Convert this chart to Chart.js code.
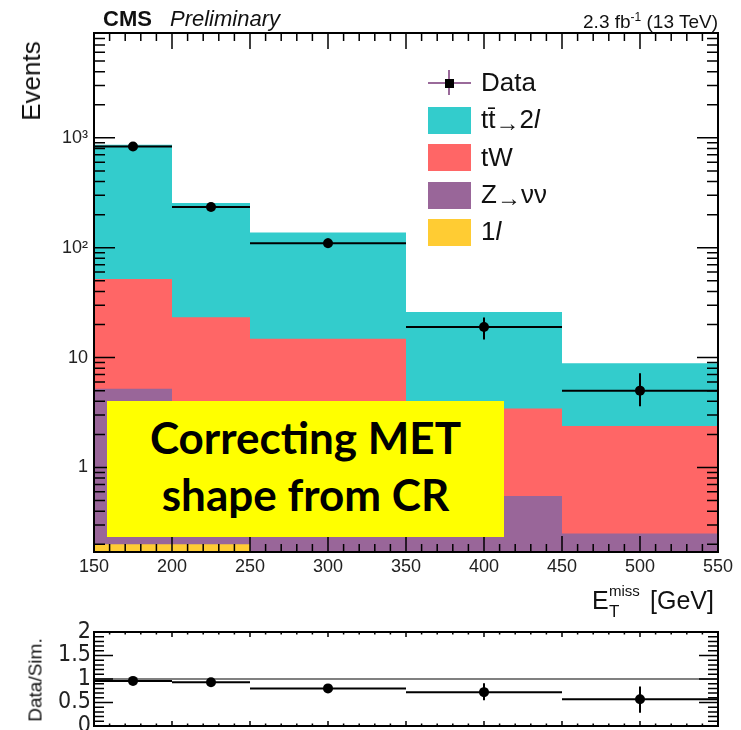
<!DOCTYPE html>
<html>
<head>
<meta charset="utf-8">
<script src="https://cdn.jsdelivr.net/npm/chart.js@4.4.1/dist/chart.umd.min.js"></script>
<style>
  body { margin: 0; background: #fff; overflow: hidden; }
  #wrap { position: relative; width: 741px; height: 730px; overflow: hidden;
          font-family: "Liberation Sans", Arial, sans-serif; color: #111; }
  canvas { position: absolute; left: 0; }
  .t { position: absolute; white-space: nowrap; line-height: 1; }
  .rot { position: absolute; white-space: nowrap; line-height: 1;
         transform: translate(-50%, -50%) rotate(-90deg); }
  .box { position: absolute; }
  .arr { font-size: 24px; position: relative; top: 3px; }
  #note { position: absolute; left: 107px; top: 401px; width: 397px; height: 136px;
          background: #ffff00; font-family: Lato, "Open Sans", sans-serif; font-weight: bold;
          color: #000; text-align: center; }
  #note div { position: absolute; left: 0; width: 100%; line-height: 1; font-size: 44px; }
</style>
</head>
<body>
<div id="wrap">
  <canvas id="mainChart" width="741" height="600" style="top:0"></canvas>
  <canvas id="ratioChart" width="741" height="150" style="top:600px"></canvas>
  <div id="note">
    <div style="top:14px">Correcting MET</div>
    <div style="top:71px">shape from CR</div>
  </div>
</div>
<script>
// bins of missing E_T [GeV]
const binEdges = [150, 200, 250, 350, 450, 550];
const binCenters = [175, 225, 300, 400, 500];

// observed events and error band
const dataCounts = [835, 235, 110, 19, 5];
const dataLow = [806, 220, 100, 14.6, 3.6];
const dataHigh = [864, 250, 121, 23.2, 7.2];

// simulated backgrounds (per process, stacked bottom to top)
const oneLep = [0.2, 0.2, 0, 0, 0];
const zNuNu = [5.0, 1.3, 0.8, 0.55, 0.25];
const tW = [46.8, 21.8, 14.0, 2.89, 2.13];
const ttbar2l = [811, 232, 123, 22.6, 6.5];

// data / simulation
const ratio = [0.96, 0.93, 0.80, 0.72, 0.57];
const ratioLow = [0.93, 0.87, 0.74, 0.55, 0.28];
const ratioHigh = [0.99, 0.99, 0.86, 0.91, 0.84];

const xTicks = [150, 200, 250, 300, 350, 400, 450, 500, 550];
const yTicksMain = [1, 10, 100, 1000];
const yLabelsMain = ['1', '10', '10²', '10³'];
const yTicksRatio = [0, 0.5, 1, 1.5, 2];
const yLabelsRatio = ['0', '0.5', '1', '1.5', '2'];

const colTT = '#33cccc', colTW = '#ff6666', colZ = '#996699', col1L = '#ffcc33';

// ---------- overlay texts ----------
const wrap = document.getElementById('wrap');
function text(html, left, baseline, size, style) {
  const el = document.createElement('span');
  el.className = 't';
  el.innerHTML = html;
  el.style.fontSize = size + 'px';
  el.style.left = left + 'px';
  el.style.top = (baseline - 0.8465 * size) + 'px';
  if (style) el.setAttribute('style', el.getAttribute('style') + ';' + style);
  wrap.appendChild(el);
  return el;
}
function rotText(html, cx, cy, size) {
  const el = document.createElement('span');
  el.className = 'rot';
  el.innerHTML = html;
  el.style.fontSize = size + 'px';
  el.style.left = cx + 'px';
  el.style.top = cy + 'px';
  wrap.appendChild(el);
}
function box(left, top, w, h, color) {
  const el = document.createElement('div');
  el.className = 'box';
  el.style.cssText = `left:${left}px;top:${top}px;width:${w}px;height:${h}px;background:${color}`;
  wrap.appendChild(el);
}

text('CMS', 103, 27, 22, 'font-weight:bold');
text('Preliminary', 170, 27, 22, 'font-style:italic');
const lumi = text('2.3 fb<sup style="font-size:12px;vertical-align:7px">-1</sup> (13 TeV)', 0, 27, 19);
lumi.style.left = 'auto'; lumi.style.right = '23px';

rotText('Events', 31, 81, 26);
rotText('Data/Sim.', 35, 680, 19);

text('E', 592, 609, 25);
text('miss', 609, 596, 15);
text('T', 609, 617, 17);
text('[GeV]', 650, 609, 25);

// legend
box(428, 82, 43, 2, '#9a6a9a');
box(448, 70, 2, 25, '#9a6a9a');
box(445, 79, 9, 9, '#000');
box(428, 107, 43, 27, colTT);
box(428, 144, 43, 27, colTW);
box(428, 182, 43, 27, colZ);
box(428, 219, 43, 27, col1L);
text('Data', 481, 91, 26);
text('tt&#772;<span class="arr">→</span>2<i>l</i>', 481, 128, 26);
text('tW', 481, 166, 26);
text('Z<span class="arr">→</span>νν', 481, 203, 26);
text('1<i>l</i>', 481, 240, 26);

// ---------- helpers ----------
function steps(vals) {
  const pts = vals.map((v, i) => ({ x: binEdges[i], y: v > 0 ? v : 0.001 }));
  pts.push({ x: binEdges[binEdges.length - 1], y: pts[pts.length - 1].y });
  return pts;
}
function errorSegments(vals, lo, hi) {
  const pts = [];
  vals.forEach((v, i) => {
    pts.push({ x: binEdges[i], y: v }, { x: binEdges[i + 1], y: v }, { x: binEdges[i + 1], y: null });
    pts.push({ x: binCenters[i], y: lo[i] }, { x: binCenters[i], y: hi[i] }, { x: binCenters[i], y: null });
  });
  return pts;
}
const points = vals => vals.map((v, i) => ({ x: binCenters[i], y: v }));

const cum1 = oneLep.slice();
const cum2 = cum1.map((v, i) => v + zNuNu[i]);
const cum3 = cum2.map((v, i) => v + tW[i]);
const cum4 = cum3.map((v, i) => v + ttbar2l[i]);

function area(vals, color) {
  return { data: steps(vals), stepped: true, fill: 'start', backgroundColor: color,
           borderColor: 'rgba(0,0,0,0)', borderWidth: 0, pointRadius: 0 };
}

// ROOT-like frame with inward ticks
const rootFrame = {
  id: 'rootFrame',
  afterDatasetsDraw(chart, args, o) {
    const { ctx, chartArea: a, scales: { x, y } } = chart;
    ctx.save();
    ctx.strokeStyle = '#000';
    ctx.lineWidth = 1.5;
    ctx.beginPath();
    for (let v = x.min; v <= x.max + 1e-6; v += 10) {
      const px = x.getPixelForValue(v);
      const len = (Math.round(v) % 50 === 0) ? o.xMajor : o.xMinor;
      ctx.moveTo(px, a.bottom); ctx.lineTo(px, a.bottom - len);
      ctx.moveTo(px, a.top); ctx.lineTo(px, a.top + len);
    }
    o.yList(y).forEach(([v, major]) => {
      const py = y.getPixelForValue(v);
      const len = major ? o.yMajor : o.yMinor;
      ctx.moveTo(a.left, py); ctx.lineTo(a.left + len, py);
      ctx.moveTo(a.right, py); ctx.lineTo(a.right - len, py);
    });
    ctx.stroke();
    ctx.lineWidth = 2;
    ctx.strokeRect(a.left, a.top, a.right - a.left, a.bottom - a.top);
    ctx.restore();
  }
};

function logTickList(y) {
  const out = [];
  for (let e = -1; e <= 3; e++) {
    for (let k = 1; k <= 9; k++) {
      const v = k * Math.pow(10, e);
      if (v >= y.min && v <= y.max) out.push([v, k === 1]);
    }
  }
  return out;
}
function ratioTickList(y) {
  const out = [];
  for (let i = 0; i <= 20; i++) out.push([i / 10, i % 5 === 0]);
  return out;
}

const tickFont = { family: 'Liberation Sans', size: 18 };
const narrowFont = { family: "'Liberation Sans Narrow', 'DejaVu Sans Condensed', sans-serif", size: 23 };

const xAxis = (height, showLabels) => ({
  type: 'linear', min: 150, max: 550,
  grid: { display: false, drawTicks: false }, border: { display: false },
  afterBuildTicks: s => { s.ticks = xTicks.map(v => ({ value: v })); },
  ticks: { display: showLabels, font: tickFont, color: '#222', padding: 4, maxRotation: 0, autoSkip: false },
  afterFit: s => { s.height = height; }
});

// ---------- main chart ----------
new Chart(document.getElementById('mainChart'), {
  type: 'line',
  data: {
    datasets: [
      { data: errorSegments(dataCounts, dataLow, dataHigh), borderColor: '#000', borderWidth: 2,
        pointRadius: 0, fill: false, spanGaps: false },
      { data: points(dataCounts), showLine: false, pointRadius: 5, pointBackgroundColor: '#000',
        pointBorderColor: '#000', pointBorderWidth: 0 },
      area(cum1, col1L),
      area(cum2, colZ),
      area(cum3, colTW),
      area(cum4, colTT)
    ]
  },
  options: {
    responsive: false, animation: false, events: [],
    layout: { padding: { top: 33, right: 23, left: 0, bottom: 0 } },
    plugins: {
      legend: { display: false }, tooltip: { enabled: false },
      rootFrame: { xMajor: 16, xMinor: 8, yMajor: 21, yMinor: 11, yList: logTickList }
    },
    scales: {
      x: xAxis(48, true),
      y: {
        type: 'logarithmic', min: 0.17, max: 9000,
        grid: { display: false, drawTicks: false }, border: { display: false },
        afterBuildTicks: s => { s.ticks = yTicksMain.map(v => ({ value: v })); },
        ticks: { font: tickFont, color: '#222', padding: 6, autoSkip: false,
                 callback: (v, i) => yLabelsMain[i] },
        afterFit: s => { s.width = 94; }
      }
    }
  },
  plugins: [rootFrame]
});

// ---------- ratio chart ----------
new Chart(document.getElementById('ratioChart'), {
  type: 'line',
  data: {
    datasets: [
      { data: errorSegments(ratio, ratioLow, ratioHigh), borderColor: '#000', borderWidth: 2,
        pointRadius: 0, fill: false, spanGaps: false },
      { data: points(ratio), showLine: false, pointRadius: 5, pointBackgroundColor: '#000',
        pointBorderColor: '#000', pointBorderWidth: 0 },
      { data: [{ x: 150, y: 1 }, { x: 550, y: 1 }], borderColor: '#808080', borderWidth: 2, pointRadius: 0 }
    ]
  },
  options: {
    responsive: false, animation: false, events: [],
    layout: { padding: { top: 32, right: 23, left: 0, bottom: 0 } },
    plugins: {
      legend: { display: false }, tooltip: { enabled: false },
      rootFrame: { xMajor: 5, xMinor: 2.5, yMajor: 19, yMinor: 10, yList: ratioTickList }
    },
    scales: {
      x: xAxis(24, false),
      y: {
        type: 'linear', min: 0, max: 2,
        grid: { display: false, drawTicks: false }, border: { display: false },
        afterBuildTicks: s => { s.ticks = yTicksRatio.map(v => ({ value: v })); },
        ticks: { font: narrowFont, color: '#222', padding: 3, autoSkip: false,
                 callback: (v, i) => yLabelsRatio[i] },
        afterFit: s => { s.width = 94; }
      }
    }
  },
  plugins: [rootFrame]
});
</script>
</body>
</html>
